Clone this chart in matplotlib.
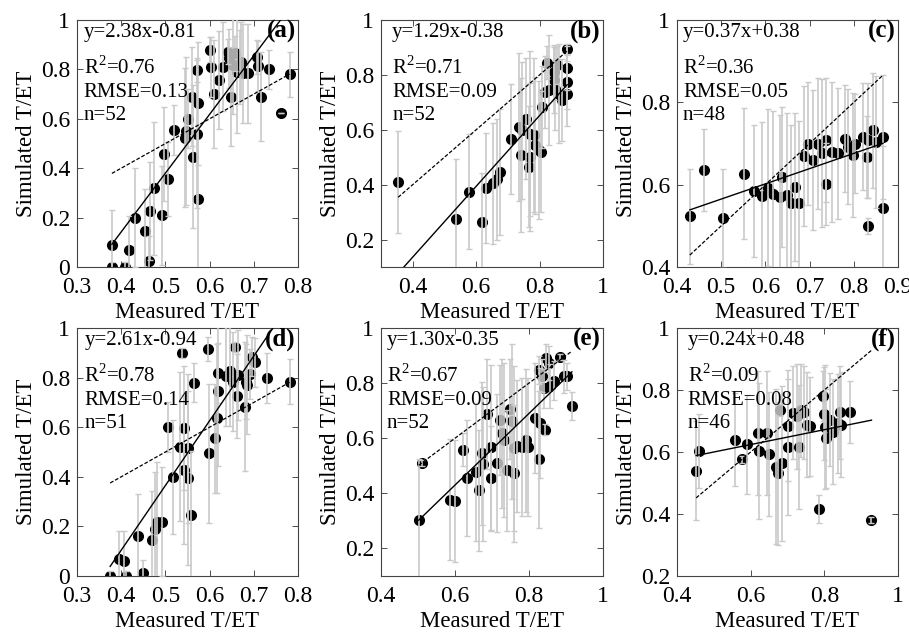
import numpy as np
import matplotlib
matplotlib.use("Agg")
import matplotlib.pyplot as plt
from matplotlib.ticker import FuncFormatter

plt.rcParams["font.family"] = ["Liberation Serif", "DejaVu Serif"]
plt.rcParams["mathtext.fontset"] = "custom"
plt.rcParams["mathtext.rm"] = "Liberation Serif"

# Panel data: measured (x), simulated (y), simulated spread (err)
a_x = [0.379, 0.408, 0.380, 0.417, 0.462, 0.432, 0.453, 0.465, 0.474, 0.492, 0.497, 0.505, 0.520, 0.550, 0.545,
       0.546, 0.562, 0.571, 0.574, 0.572, 0.561, 0.573, 0.600, 0.604, 0.611, 0.621, 0.631, 0.648, 0.641, 0.644,
       0.653, 0.662, 0.672, 0.676, 0.687, 0.668, 0.657, 0.708, 0.710, 0.717, 0.735, 0.781, 0.762]
a_y = [0.0, 0.0, 0.09, 0.068, 0.025, 0.2, 0.146, 0.227, 0.318, 0.209, 0.457, 0.358, 0.554, 0.6, 0.524,
       0.55, 0.446, 0.54, 0.277, 0.797, 0.69, 0.662, 0.88, 0.81, 0.7, 0.757, 0.81, 0.69, 0.872, 0.845,
       0.818, 0.791, 0.831, 0.784, 0.784, 0.81, 0.865, 0.85, 0.813, 0.69, 0.8, 0.78, 0.624]
a_err = [0.02, 0.02, 0.14, 0.14, 0.1, 0.2, 0.17, 0.2, 0.27, 0.2, 0.19, 0.15, 0.1, 0.12, 0.28,
         0.3, 0.29, 0.3, 0.3, 0.05, 0.2, 0.25, 0.05, 0.12, 0.22, 0.2, 0.18, 0.2, 0.05, 0.12,
         0.2, 0.25, 0.16, 0.2, 0.2, 0.15, 0.07, 0.07, 0.1, 0.18, 0.08, 0.09, 0.0]

b_x = [0.354, 0.538, 0.577, 0.619, 0.631, 0.653, 0.676, 0.665, 0.711, 0.734, 0.740, 0.758, 0.766, 0.771, 0.782,
       0.787, 0.797, 0.803, 0.745, 0.771, 0.808, 0.818, 0.829, 0.824, 0.845, 0.860, 0.871, 0.887, 0.887, 0.887,
       0.855, 0.845, 0.850, 0.887]
b_y = [0.41, 0.274, 0.374, 0.263, 0.387, 0.405, 0.446, 0.42, 0.565, 0.611, 0.507, 0.64, 0.465, 0.501, 0.58,
       0.544, 0.526, 0.52, 0.598, 0.586, 0.684, 0.738, 0.745, 0.844, 0.78, 0.732, 0.708, 0.775, 0.824, 0.732,
       0.837, 0.81, 0.75, 0.893]
b_err = [0.185, 0.22, 0.21, 0.18, 0.2, 0.22, 0.23, 0.22, 0.2, 0.27, 0.28, 0.22, 0.22, 0.27, 0.28,
         0.25, 0.25, 0.22, 0.25, 0.3, 0.15, 0.13, 0.2, 0.06, 0.12, 0.18, 0.15, 0.1, 0.08, 0.12,
         0.07, 0.1, 0.15, 0.02]

c_x = [0.429, 0.460, 0.503, 0.552, 0.574, 0.592, 0.607, 0.618, 0.637, 0.633, 0.648, 0.659, 0.667, 0.677, 0.738,
       0.687, 0.697, 0.708, 0.720, 0.727, 0.738, 0.750, 0.765, 0.780, 0.787, 0.798, 0.802, 0.821, 0.829, 0.832,
       0.844, 0.851, 0.866, 0.831, 0.866]
c_y = [0.523, 0.635, 0.518, 0.627, 0.585, 0.572, 0.593, 0.578, 0.619, 0.57, 0.574, 0.555, 0.595, 0.555, 0.601,
       0.669, 0.7, 0.66, 0.7, 0.676, 0.708, 0.68, 0.676, 0.712, 0.692, 0.672, 0.7, 0.716, 0.668, 0.708,
       0.732, 0.704, 0.716, 0.5, 0.543]
c_err = [0.115, 0.1, 0.12, 0.16, 0.16, 0.18, 0.19, 0.2, 0.17, 0.2, 0.2, 0.19, 0.18, 0.2, 0.1,
         0.17, 0.15, 0.17, 0.16, 0.18, 0.15, 0.17, 0.16, 0.13, 0.14, 0.15, 0.12, 0.13, 0.1, 0.14,
         0.14, 0.16, 0.15, 0.02, 0.15]

d_x = [0.375, 0.410, 0.394, 0.407, 0.450, 0.438, 0.469, 0.477, 0.480, 0.492, 0.507, 0.518, 0.532, 0.537, 0.543,
       0.543, 0.550, 0.550, 0.557, 0.565, 0.597, 0.598, 0.612, 0.616, 0.618, 0.620, 0.657, 0.638, 0.646, 0.653,
       0.665, 0.662, 0.682, 0.680, 0.684, 0.691, 0.695, 0.702, 0.729, 0.781]
d_y = [0.0, 0.0, 0.07, 0.06, 0.013, 0.162, 0.144, 0.191, 0.218, 0.218, 0.6, 0.4, 0.521, 0.899, 0.596,
       0.428, 0.394, 0.515, 0.245, 0.78, 0.915, 0.495, 0.555, 0.636, 0.744, 0.818, 0.923, 0.805, 0.825, 0.784,
       0.811, 0.726, 0.784, 0.683, 0.771, 0.815, 0.885, 0.861, 0.798, 0.784]
d_err = [0.02, 0.02, 0.11, 0.12, 0.05, 0.17, 0.2, 0.23, 0.24, 0.22, 0.1, 0.23, 0.3, 0.02, 0.25,
         0.3, 0.35, 0.3, 0.26, 0.08, 0.05, 0.28, 0.22, 0.3, 0.3, 0.12, 0.02, 0.2, 0.22, 0.2,
         0.18, 0.17, 0.15, 0.26, 0.2, 0.1, 0.08, 0.1, 0.1, 0.09]

e_x = [0.502, 0.511, 0.587, 0.601, 0.622, 0.632, 0.658, 0.664, 0.673, 0.677, 0.686, 0.698, 0.698, 0.714, 0.721,
       0.727, 0.733, 0.740, 0.748, 0.754, 0.759, 0.759, 0.768, 0.781, 0.793, 0.797, 0.826, 0.817, 0.830, 0.844,
       0.826, 0.835, 0.840, 0.847, 0.853, 0.858, 0.867, 0.883, 0.894, 0.903, 0.916]
e_y = [0.305, 0.511, 0.377, 0.372, 0.559, 0.456, 0.478, 0.411, 0.545, 0.506, 0.688, 0.567, 0.454, 0.511, 0.666,
       0.618, 0.593, 0.484, 0.706, 0.661, 0.563, 0.472, 0.572, 0.569, 0.593, 0.567, 0.523, 0.672, 0.654, 0.63,
       0.848, 0.826, 0.781, 0.891, 0.873, 0.788, 0.809, 0.894, 0.824, 0.824, 0.717]
e_err = [0.22, 0.01, 0.22, 0.22, 0.06, 0.21, 0.25, 0.22, 0.26, 0.28, 0.2, 0.3, 0.19, 0.25, 0.2,
         0.27, 0.28, 0.22, 0.18, 0.28, 0.3, 0.25, 0.24, 0.25, 0.26, 0.25, 0.25, 0.2, 0.2, 0.02,
         0.05, 0.06, 0.07, 0.05, 0.06, 0.08, 0.07, 0.01, 0.06, 0.05, 0.05]

f_x = [0.452, 0.460, 0.558, 0.590, 0.576, 0.621, 0.623, 0.644, 0.651, 0.669, 0.675, 0.684, 0.680, 0.702, 0.702,
       0.714, 0.725, 0.732, 0.736, 0.745, 0.752, 0.761, 0.797, 0.799, 0.802, 0.804, 0.815, 0.824, 0.838, 0.842,
       0.844, 0.869, 0.786, 0.928]
f_y = [0.54, 0.604, 0.639, 0.625, 0.576, 0.661, 0.604, 0.661, 0.594, 0.553, 0.531, 0.564, 0.736, 0.616, 0.685,
       0.726, 0.715, 0.616, 0.734, 0.728, 0.688, 0.683, 0.781, 0.723, 0.682, 0.644, 0.704, 0.666, 0.693, 0.728,
       0.688, 0.729, 0.415, 0.38]
f_err = [0.16, 0.12, 0.15, 0.16, 0.01, 0.2, 0.22, 0.2, 0.2, 0.25, 0.23, 0.25, 0.02, 0.22, 0.18,
         0.15, 0.17, 0.2, 0.15, 0.15, 0.17, 0.16, 0.08, 0.15, 0.2, 0.16, 0.15, 0.17, 0.16, 0.15,
         0.17, 0.1, 0.045, 0.01]

# Regression statistics shown on each panel
labels = ["(a)", "(b)", "(c)", "(d)", "(e)", "(f)"]
slopes = [2.38, 1.29, 0.37, 2.61, 1.30, 0.24]
intercepts = [-0.81, -0.38, 0.38, -0.94, -0.35, 0.48]
r2 = ["0.76", "0.71", "0.36", "0.78", "0.67", "0.09"]
rmse = ["0.13", "0.09", "0.05", "0.14", "0.09", "0.08"]
n_obs = [52, 52, 48, 51, 52, 46]

# Axis ranges and ticks
xlims = [(0.3, 0.8), (0.3, 1.0), (0.4, 0.9), (0.3, 0.8), (0.4, 1.0), (0.4, 1.0)]
ylims = [(0, 1), (0.1, 1), (0.4, 1), (0, 1), (0.1, 1), (0.2, 1)]
xticks = [[0.3, 0.4, 0.5, 0.6, 0.7, 0.8], [0.4, 0.6, 0.8, 1.0], [0.4, 0.5, 0.6, 0.7, 0.8, 0.9],
          [0.3, 0.4, 0.5, 0.6, 0.7, 0.8], [0.4, 0.6, 0.8, 1.0], [0.4, 0.6, 0.8, 1.0]]
yticks = [[0, 0.2, 0.4, 0.6, 0.8, 1.0], [0.2, 0.4, 0.6, 0.8, 1.0], [0.4, 0.6, 0.8, 1.0],
          [0, 0.2, 0.4, 0.6, 0.8, 1.0], [0.2, 0.4, 0.6, 0.8, 1.0], [0.2, 0.4, 0.6, 0.8, 1.0]]

panels = [(a_x, a_y, a_err), (b_x, b_y, b_err), (c_x, c_y, c_err),
          (d_x, d_y, d_err), (e_x, e_y, e_err), (f_x, f_y, f_err)]

# axes boxes in figure fractions
W, H = 909, 632
lefts = [77, 381, 677]
widths = [221, 222, 221]
tops = [20, 328]
heights = [247, 248]
text_x = [0.03, 0.05, 0.027, 0.033, 0.027, 0.048]

fig = plt.figure(figsize=(W / 100, H / 100), dpi=100)
fmt = FuncFormatter(lambda v, p: f"{v:g}")

for i, (px, py, perr) in enumerate(panels):
    r, c = divmod(i, 3)
    ax = fig.add_axes([lefts[c] / W, 1 - (tops[r] + heights[r]) / H, widths[c] / W, heights[r] / H])
    x = np.array(px)
    y = np.array(py)

    ax.plot(x, y, "o", color="k", markersize=8, markeredgewidth=0, zorder=2)
    ax.errorbar(x, y, yerr=perr, fmt="none", ecolor="#cacaca", elinewidth=1.2,
                capsize=2, capthick=1.0, zorder=3)

    xl = np.array([x.min(), x.max()])
    ax.plot(xl, xl, color="k", linestyle=(0, (3, 1.5)), linewidth=0.9, zorder=4)
    ax.plot(xl, slopes[i] * xl + intercepts[i], color="k", linewidth=1.0, zorder=4)

    ax.set_xlim(*xlims[i])
    ax.set_ylim(*ylims[i])
    ax.set_xticks(xticks[i])
    ax.set_yticks(yticks[i])
    ax.xaxis.set_major_formatter(fmt)
    ax.yaxis.set_major_formatter(fmt)
    ax.tick_params(direction="in", top=True, right=True, length=4, width=0.6,
                   labelsize=17, color="#333333")
    ax.tick_params(axis="x", pad=7)
    ax.tick_params(axis="y", pad=5)
    for s in ax.spines.values():
        s.set_linewidth(0.8)
        s.set_color("#444444")

    ax.set_xlabel("Measured T/ET", fontsize=16.5, labelpad=3)
    ax.set_ylabel("Simulated T/ET", fontsize=16.5, labelpad=3)

    sign = "+" if intercepts[i] >= 0 else "-"
    lines = [f"y={slopes[i]:.2f}x{sign}{abs(intercepts[i]):.2f}",
             "R$^{2}$=" + r2[i],
             f"RMSE={rmse[i]}",
             f"n={n_obs[i]}"]
    for txt, yy in zip(lines, [0.93, 0.784, 0.69, 0.595]):
        ax.text(text_x[i], yy, txt, transform=ax.transAxes, fontsize=15,
                ha="left", va="baseline", zorder=5)
    ax.text(0.99, 0.93, labels[i], transform=ax.transAxes, fontsize=18,
            fontweight="bold", ha="right", va="baseline", zorder=5)

plt.savefig("out.png", dpi=100)
plt.close()
